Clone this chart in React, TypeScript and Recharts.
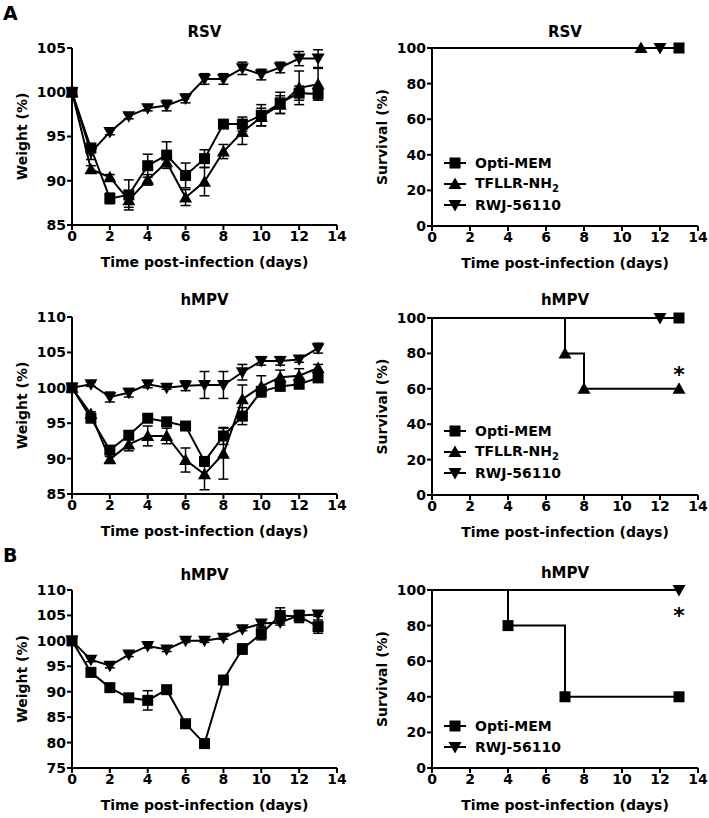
import React from "react";
import { LineChart, Line, XAxis, YAxis, ErrorBar, Legend, ReferenceDot } from "recharts";

// days post-infection
const days = [0, 1, 2, 3, 4, 5, 6, 7, 8, 9, 10, 11, 12, 13];
const dayTicks = [0, 2, 4, 6, 8, 10, 12, 14];

// A / RSV body weight (% of day 0), mean and SEM
const rsvOpti = [100, 93.7, 88.0, 88.4, 91.7, 92.9, 90.6, 92.5, 96.4, 96.4, 97.4, 98.8, 99.9, 99.8];
const rsvOptiErr = [0, 0.5, 0.6, 1.7, 1.3, 1.5, 1.4, 1.0, 0.3, 0.8, 1.2, 1.2, 0.8, 0.5];
const rsvTfllr = [100, 91.3, 90.4, 87.8, 90.1, 92.1, 88.1, 89.9, 93.3, 95.5, 97.2, 98.6, 100.5, 100.9];
const rsvTfllrErr = [0, 0.4, 0.3, 0.8, 0.6, 0.5, 0.9, 1.6, 0.8, 1.4, 1.0, 1.0, 1.9, 1.8];
const rsvRwj = [100, 93.2, 95.5, 97.3, 98.2, 98.5, 99.3, 101.5, 101.5, 102.7, 102.0, 102.8, 103.8, 103.8];
const rsvRwjErr = [0, 0.8, 0.3, 0.3, 0.3, 0.6, 0.5, 0.6, 0.6, 0.7, 0.6, 0.6, 0.8, 1.0];

// A / hMPV body weight
const hmpvOpti = [100, 95.7, 91.2, 93.3, 95.7, 95.2, 94.6, 89.6, 93.2, 96.0, 99.5, 100.2, 100.5, 101.4];
const hmpvOptiErr = [0, 0.4, 0.5, 0.6, 0.5, 0.4, 0.3, 0.6, 1.2, 1.2, 0.6, 0.5, 0.5, 0.5];
const hmpvTfllr = [100, 96.3, 89.9, 92.0, 93.2, 93.2, 89.8, 87.8, 90.7, 98.4, 100.2, 101.5, 101.7, 102.8];
const hmpvTfllrErr = [0, 0.3, 0.4, 0.9, 1.4, 1.1, 1.7, 2.2, 3.6, 2.0, 1.5, 1.0, 1.0, 0.5];
const hmpvRwj = [100, 100.5, 98.7, 99.3, 100.5, 100.0, 100.3, 100.4, 100.4, 102.2, 103.8, 103.8, 104.0, 105.6];
const hmpvRwjErr = [0, 0.3, 0.7, 0.6, 0.5, 0.2, 0.7, 1.9, 1.9, 1.1, 0.6, 0.6, 0.4, 0.7];

// B / hMPV body weight
const bOpti = [100, 93.8, 90.8, 88.8, 88.3, 90.4, 83.7, 79.8, 92.3, 98.4, 101.4, 105.0, 104.8, 102.8];
const bOptiErr = [0, 0.4, 0.4, 0.6, 1.9, 0.4, 0.4, 0.7, 0.5, 1.0, 1.2, 1.5, 1.2, 1.3];
const bRwj = [100, 96.3, 95.1, 97.3, 99.0, 98.3, 100.0, 100.0, 100.6, 102.3, 103.4, 103.6, 105.0, 105.2];
const bRwjErr = [0, 0.4, 0.4, 0.4, 0.4, 0.4, 0.3, 0.3, 0.3, 0.3, 0.5, 0.5, 0.4, 0.4];

// survival (Kaplan-Meier steps): days and % alive
const rsvSurvOptiDays = [0, 13];
const rsvSurvOpti = [100, 100];
const rsvSurvTfllrDays = [0, 11];
const rsvSurvTfllr = [100, 100];
const rsvSurvRwjDays = [0, 12];
const rsvSurvRwj = [100, 100];

const hmpvSurvOptiDays = [0, 13];
const hmpvSurvOpti = [100, 100];
const hmpvSurvTfllrDays = [0, 7, 8, 13];
const hmpvSurvTfllr = [100, 80, 60, 60];
const hmpvSurvRwjDays = [0, 12];
const hmpvSurvRwj = [100, 100];

const bSurvOptiDays = [0, 4, 7, 13];
const bSurvOpti = [100, 80, 40, 40];
const bSurvRwjDays = [0, 13];
const bSurvRwj = [100, 100];

const FONT = "'DejaVu Sans', sans-serif";

type Shape = "square" | "up" | "down";

const weightTable = (cols: Record<string, [number[], number[]]>) =>
  days.map((d, i) => {
    const row: Record<string, number> = { day: d };
    Object.entries(cols).forEach(([k, [v, e]]) => {
      row[k] = v[i];
      row[k + "Err"] = e[i];
    });
    return row;
  });

const survTable = (ds: number[], vs: number[]) => ds.map((d, i) => ({ day: d, value: vs[i] }));

function Marker({ cx, cy, shape }: { cx: number; cy: number; shape: Shape }) {
  if (shape === "square") {
    return <rect x={cx - 5.5} y={cy - 5.5} width={11} height={11} fill="#000" />;
  }
  const h = 6.5;
  const pts =
    shape === "up"
      ? `${cx},${cy - h} ${cx - h},${cy + 5} ${cx + h},${cy + 5}`
      : `${cx},${cy + h} ${cx - h},${cy - 5} ${cx + h},${cy - 5}`;
  return <polygon points={pts} fill="#000" />;
}

const dotFor = (shape: Shape, skipFirst = false) => (props: any) => {
  const { cx, cy, index } = props;
  if (cx == null || cy == null || (skipFirst && index === 0)) return <g key={`d${index}`} />;
  return <Marker key={`d${index}`} cx={cx} cy={cy} shape={shape} />;
};

const tickStyle = { fill: "#000", fontSize: 14, fontWeight: "bold", fontFamily: FONT };
const axisLine = { stroke: "#000", strokeWidth: 2 };
const labelStyle = { fill: "#000", fontSize: 14, fontWeight: "bold", fontFamily: FONT };

type Col = { chartLeft: number; plotLeft: number; plotRight: number; width: number; yLabelX: number };
const LEFT: Col = { chartLeft: 0, plotLeft: 72, plotRight: 337, width: 352, yLabelX: 22 };
const RIGHT: Col = { chartLeft: 355, plotLeft: 432, plotRight: 698, width: 354, yLabelX: 27 };

function Title({ col, y, text }: { col: Col; y: number; text: string }) {
  return (
    <div
      style={{
        position: "absolute",
        left: col.plotLeft,
        width: col.plotRight - col.plotLeft,
        top: y - 9,
        lineHeight: "18px",
        textAlign: "center",
        fontFamily: FONT,
        fontWeight: "bold",
        fontSize: 15,
      }}
    >
      {text}
    </div>
  );
}

function Axes({ col, yDomain, yTicks, yLabel }: { col: Col; yDomain: [number, number]; yTicks: number[]; yLabel: string }) {
  return (
    <>
      <XAxis
        type="number"
        dataKey="day"
        domain={[0, 14]}
        ticks={dayTicks}
        height={45}
        axisLine={axisLine}
        tickLine={axisLine}
        tickSize={5}
        tickMargin={1}
        tick={tickStyle}
        label={{ value: "Time post-infection (days)", position: "insideBottom", offset: 3, style: labelStyle }}
      />
      <YAxis
        type="number"
        domain={yDomain}
        ticks={yTicks}
        width={col.plotLeft - col.chartLeft}
        axisLine={axisLine}
        tickLine={axisLine}
        tickSize={5}
        tickMargin={1}
        tick={tickStyle}
        label={{
          value: yLabel,
          angle: -90,
          position: "insideLeft",
          offset: col.yLabelX,
          style: { ...labelStyle, textAnchor: "middle" },
        }}
      />
    </>
  );
}

type WSeries = { key: string; shape: Shape };

function WeightPanel(p: {
  col: Col;
  plotTop: number;
  plotBottom: number;
  titleY: number;
  title: string;
  yDomain: [number, number];
  yTicks: number[];
  data: Record<string, number>[];
  series: WSeries[];
}) {
  const top = p.plotTop - 8;
  const height = p.plotBottom - top + 45;
  return (
    <>
      <Title col={p.col} y={p.titleY} text={p.title} />
      <div style={{ position: "absolute", left: p.col.chartLeft, top }}>
        <LineChart
          width={p.col.width}
          height={height}
          data={p.data}
          margin={{ top: 8, right: p.col.chartLeft + p.col.width - p.col.plotRight, left: 0, bottom: 0 }}
        >
          {Axes({ col: p.col, yDomain: p.yDomain, yTicks: p.yTicks, yLabel: "Weight (%)" })}
          {p.series.map((s) => (
            <Line
              key={s.key}
              type="linear"
              dataKey={s.key}
              stroke="#000"
              strokeWidth={2}
              dot={dotFor(s.shape)}
              activeDot={false}
              isAnimationActive={false}
            >
              <ErrorBar dataKey={s.key + "Err"} direction="y" width={5} stroke="#000" strokeWidth={1.5} />
            </Line>
          ))}
        </LineChart>
      </div>
    </>
  );
}

type SSeries = { name: string; shape: Shape; data: { day: number; value: number }[] };

function LegendBox({ items }: { items: SSeries[] }) {
  return (
    <div style={{ fontFamily: FONT, fontWeight: "bold", fontSize: 14, color: "#000" }}>
      {items.map((it) => (
        <div key={it.name} style={{ display: "flex", alignItems: "center", height: 21 }}>
          <svg width={22} height={14}>
            <line x1={0} y1={7} x2={22} y2={7} stroke="#000" strokeWidth={2} />
            <Marker cx={11} cy={7} shape={it.shape} />
          </svg>
          <span style={{ marginLeft: 9, whiteSpace: "nowrap" }}>
            {it.name === "TFLLR-NH2" ? (
              <>
                TFLLR-NH<sub style={{ fontSize: 10 }}>2</sub>
              </>
            ) : (
              it.name
            )}
          </span>
        </div>
      ))}
    </div>
  );
}

function SurvivalPanel(p: {
  plotTop: number;
  plotBottom: number;
  titleY: number;
  title: string;
  series: SSeries[];
  legendOrder: string[];
  legendTop: number;
  star?: { day: number; value: number };
}) {
  const col = RIGHT;
  const top = p.plotTop - 8;
  const height = p.plotBottom - top + 45;
  const legendItems = p.legendOrder.map((n) => p.series.find((s) => s.name === n)!);
  return (
    <>
      <Title col={col} y={p.titleY} text={p.title} />
      <div style={{ position: "absolute", left: col.chartLeft, top }}>
        <LineChart
          width={col.width}
          height={height}
          margin={{ top: 8, right: col.chartLeft + col.width - col.plotRight, left: 0, bottom: 0 }}
        >
          {Axes({ col, yDomain: [0, 100], yTicks: [0, 20, 40, 60, 80, 100], yLabel: "Survival (%)" })}
          {p.series.map((s) => (
            <Line
              key={s.name}
              name={s.name}
              data={s.data}
              type="stepAfter"
              dataKey="value"
              stroke="#000"
              strokeWidth={2}
              dot={dotFor(s.shape, true)}
              activeDot={false}
              isAnimationActive={false}
            />
          ))}
          {p.star && (
            <ReferenceDot
              x={p.star.day}
              y={p.star.value}
              r={1}
              fill="none"
              stroke="none"
              label={{ value: "*", position: "center", fontSize: 22, fontWeight: "bold", fontFamily: FONT, fill: "#000" }}
            />
          )}
          <Legend
            layout="horizontal"
            verticalAlign="middle"
            align="center"
            content={() => <LegendBox items={legendItems} />}
            wrapperStyle={{ left: 89, top: p.legendTop - top - 10.5, width: "auto" }}
          />
        </LineChart>
      </div>
    </>
  );
}

const rsvData = weightTable({ rwj: [rsvRwj, rsvRwjErr], tfllr: [rsvTfllr, rsvTfllrErr], opti: [rsvOpti, rsvOptiErr] });
const hmpvData = weightTable({ rwj: [hmpvRwj, hmpvRwjErr], tfllr: [hmpvTfllr, hmpvTfllrErr], opti: [hmpvOpti, hmpvOptiErr] });
const bData = weightTable({ rwj: [bRwj, bRwjErr], opti: [bOpti, bOptiErr] });

const threeSeries: WSeries[] = [
  { key: "rwj", shape: "down" },
  { key: "tfllr", shape: "up" },
  { key: "opti", shape: "square" },
];

export default function App() {
  const panelLetter = (t: string, y: number) => (
    <div style={{ position: "absolute", left: 3, top: y, fontFamily: FONT, fontWeight: "bold", fontSize: 19, lineHeight: "20px" }}>
      {t}
    </div>
  );
  return (
    <div style={{ position: "absolute", left: 0, top: 0, width: 709, height: 818, background: "#fff", overflow: "hidden" }}>
      {panelLetter("A", 3)}
      {panelLetter("B", 545)}

      <WeightPanel
        col={LEFT}
        plotTop={48}
        plotBottom={225}
        titleY={32}
        title="RSV"
        yDomain={[85, 105]}
        yTicks={[85, 90, 95, 100, 105]}
        data={rsvData}
        series={threeSeries}
      />
      <SurvivalPanel
        plotTop={48}
        plotBottom={226}
        titleY={32}
        title="RSV"
        series={[
          { name: "TFLLR-NH2", shape: "up", data: survTable(rsvSurvTfllrDays, rsvSurvTfllr) },
          { name: "RWJ-56110", shape: "down", data: survTable(rsvSurvRwjDays, rsvSurvRwj) },
          { name: "Opti-MEM", shape: "square", data: survTable(rsvSurvOptiDays, rsvSurvOpti) },
        ]}
        legendOrder={["Opti-MEM", "TFLLR-NH2", "RWJ-56110"]}
        legendTop={163}
      />

      <WeightPanel
        col={LEFT}
        plotTop={317}
        plotBottom={494}
        titleY={300}
        title="hMPV"
        yDomain={[85, 110]}
        yTicks={[85, 90, 95, 100, 105, 110]}
        data={hmpvData}
        series={threeSeries}
      />
      <SurvivalPanel
        plotTop={318}
        plotBottom={495}
        titleY={300}
        title="hMPV"
        series={[
          { name: "TFLLR-NH2", shape: "up", data: survTable(hmpvSurvTfllrDays, hmpvSurvTfllr) },
          { name: "RWJ-56110", shape: "down", data: survTable(hmpvSurvRwjDays, hmpvSurvRwj) },
          { name: "Opti-MEM", shape: "square", data: survTable(hmpvSurvOptiDays, hmpvSurvOpti) },
        ]}
        legendOrder={["Opti-MEM", "TFLLR-NH2", "RWJ-56110"]}
        legendTop={431}
        star={{ day: 13, value: 68 }}
      />

      <WeightPanel
        col={LEFT}
        plotTop={590}
        plotBottom={768}
        titleY={575}
        title="hMPV"
        yDomain={[75, 110]}
        yTicks={[75, 80, 85, 90, 95, 100, 105, 110]}
        data={bData}
        series={[
          { key: "rwj", shape: "down" },
          { key: "opti", shape: "square" },
        ]}
      />
      <SurvivalPanel
        plotTop={590}
        plotBottom={768}
        titleY={573}
        title="hMPV"
        series={[
          { name: "Opti-MEM", shape: "square", data: survTable(bSurvOptiDays, bSurvOpti) },
          { name: "RWJ-56110", shape: "down", data: survTable(bSurvRwjDays, bSurvRwj) },
        ]}
        legendOrder={["Opti-MEM", "RWJ-56110"]}
        legendTop={726}
        star={{ day: 13, value: 86 }}
      />
    </div>
  );
}
